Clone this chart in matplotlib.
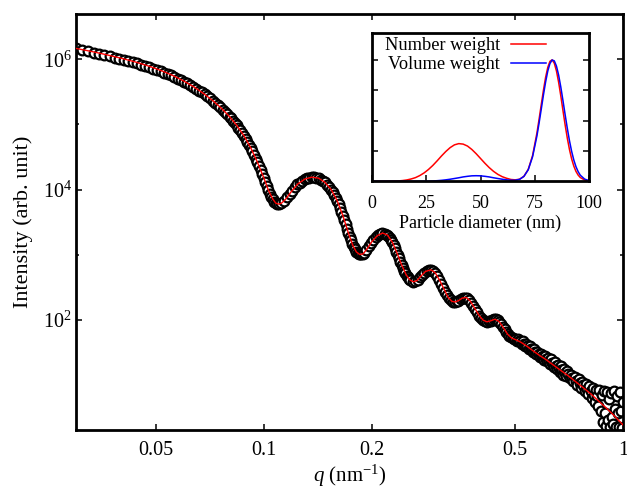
import numpy as np
import matplotlib
matplotlib.use("Agg")
import matplotlib.pyplot as plt
from matplotlib.ticker import FixedLocator, NullFormatter, LogFormatterMathtext, NullLocator

plt.rcParams['font.family'] = 'serif'
plt.rcParams['font.serif'] = ['Liberation Serif', 'DejaVu Serif']
plt.rcParams['mathtext.fontset'] = 'custom'
plt.rcParams['mathtext.rm'] = 'Liberation Serif'
plt.rcParams['mathtext.it'] = 'Liberation Serif:italic'

q_data = [0.0300, 0.0312, 0.0324, 0.0336, 0.0348, 0.0360, 0.0372, 0.0384, 0.0396, 0.0408,
          0.0420, 0.0432, 0.0444, 0.0456, 0.0468, 0.0480, 0.0492, 0.0504, 0.0516, 0.0528,
          0.0540, 0.0552, 0.0564, 0.0576, 0.0588, 0.0600,
          0.0612, 0.0624, 0.0636, 0.0648, 0.0660, 0.0672, 0.0684, 0.0696, 0.0708, 0.0720,
          0.0732, 0.0744, 0.0756, 0.0768, 0.0780, 0.0792, 0.0804,
          0.081, 0.082, 0.083, 0.084, 0.085, 0.086, 0.087, 0.088, 0.089, 0.090,
          0.091, 0.092, 0.093, 0.094, 0.095, 0.096, 0.097, 0.098, 0.099, 0.100,
          0.101, 0.102, 0.103, 0.104, 0.105, 0.106, 0.107, 0.108, 0.109, 0.110,
          0.112, 0.114, 0.116, 0.118, 0.120, 0.122, 0.124, 0.126, 0.128, 0.130, 0.132,
          0.134, 0.136, 0.138, 0.140, 0.142, 0.144, 0.146, 0.148, 0.150, 0.152, 0.154,
          0.1555, 0.1570, 0.1585, 0.1600, 0.1615, 0.1630, 0.1645, 0.1660, 0.1675, 0.1690,
          0.1705, 0.1720, 0.1735, 0.1750, 0.1765, 0.1780, 0.1795, 0.1810, 0.1825, 0.1840,
          0.1855, 0.1870, 0.1885,
          0.190, 0.193, 0.196, 0.199, 0.202, 0.205, 0.208, 0.211, 0.214, 0.217, 0.220,
          0.222, 0.224, 0.226, 0.228, 0.230, 0.232, 0.234, 0.236, 0.238, 0.240, 0.242,
          0.244, 0.246, 0.248, 0.250, 0.252, 0.254, 0.256,
          0.260, 0.264, 0.268, 0.272, 0.276, 0.280, 0.284, 0.288, 0.292, 0.296, 0.300,
          0.304, 0.308, 0.312, 0.316, 0.320, 0.324, 0.328, 0.332, 0.336, 0.340, 0.344, 0.348,
          0.353, 0.358, 0.363, 0.368, 0.373, 0.378, 0.383, 0.388, 0.393, 0.398,
          0.403, 0.408, 0.413, 0.418, 0.423, 0.428, 0.433, 0.438, 0.443, 0.448,
          0.453, 0.458, 0.463, 0.468, 0.473, 0.478, 0.483, 0.488, 0.493, 0.498,
          0.502, 0.506, 0.510, 0.514, 0.518, 0.522, 0.526, 0.530, 0.534, 0.538,
          0.542, 0.546, 0.550, 0.554, 0.558, 0.562, 0.566, 0.570, 0.574, 0.578,
          0.582, 0.586, 0.590, 0.594, 0.598, 0.602, 0.606, 0.610, 0.614, 0.618,
          0.622, 0.626, 0.630, 0.634, 0.638, 0.642, 0.646, 0.650, 0.654, 0.658,
          0.662, 0.666, 0.670, 0.674, 0.678, 0.682, 0.686, 0.690, 0.694, 0.698,
          0.704, 0.710, 0.716, 0.722, 0.728, 0.734, 0.740, 0.746, 0.752, 0.758,
          0.764, 0.770, 0.776, 0.782, 0.788, 0.794, 0.800, 0.806, 0.812, 0.818,
          0.824, 0.830, 0.836, 0.842, 0.848, 0.854, 0.860, 0.866, 0.872, 0.878,
          0.884, 0.890, 0.896, 0.902, 0.908, 0.914, 0.920, 0.926, 0.932, 0.938,
          0.944, 0.950, 0.956, 0.962, 0.968, 0.974, 0.980, 0.986, 0.992, 0.998]
lg_data = [6.172, 6.150, 6.128, 6.106, 6.086, 6.066, 6.048, 6.030, 6.012, 5.994,
           5.976, 5.958, 5.940, 5.921, 5.902, 5.882, 5.861, 5.841, 5.820, 5.798,
           5.776, 5.754, 5.731, 5.707, 5.682, 5.658,
           5.634, 5.607, 5.580, 5.552, 5.522, 5.492, 5.462, 5.431, 5.400, 5.368,
           5.334, 5.300, 5.265, 5.229, 5.191, 5.154, 5.115,
           5.095, 5.060, 5.025, 4.990, 4.950, 4.910, 4.870, 4.830, 4.783, 4.735,
           4.688, 4.640, 4.585, 4.530, 4.475, 4.420, 4.360, 4.300, 4.240, 4.180,
           4.117, 4.053, 3.990, 3.935, 3.890, 3.850, 3.815, 3.790, 3.778, 3.775,
           3.790, 3.828, 3.878, 3.933, 3.984, 4.032, 4.080, 4.107, 4.133, 4.160, 4.172,
           4.184, 4.190, 4.189, 4.183, 4.175, 4.153, 4.132, 4.110, 4.073, 4.037, 4.000,
           3.958, 3.915, 3.872, 3.830, 3.773, 3.715, 3.658, 3.600, 3.533, 3.465,
           3.398, 3.330, 3.273, 3.216, 3.160, 3.115, 3.080, 3.045, 3.022, 3.007,
           3.001, 3.003, 3.010,
           3.026, 3.074, 3.127, 3.182, 3.226, 3.264, 3.296, 3.313, 3.328, 3.318, 3.304,
           3.287, 3.253, 3.221, 3.190, 3.141, 3.093, 3.044, 2.994, 2.943, 2.891, 2.840,
           2.797, 2.754, 2.711, 2.677, 2.650, 2.623, 2.605,
           2.584, 2.586, 2.607, 2.650, 2.690, 2.723, 2.745, 2.755, 2.762, 2.745, 2.720,
           2.667, 2.613, 2.553, 2.491, 2.430, 2.370, 2.325, 2.295, 2.277, 2.271, 2.278, 2.290,
           2.312, 2.331, 2.339, 2.332, 2.301, 2.262, 2.210, 2.160, 2.110, 2.060,
           2.025, 1.992, 1.975, 1.966, 1.970, 1.980, 1.992, 2.002, 2.004, 1.990,
           1.965, 1.925, 1.886, 1.847, 1.808, 1.772, 1.745, 1.724, 1.710, 1.699,
           1.701, 1.673, 1.703, 1.664, 1.675, 1.624, 1.672, 1.630, 1.598, 1.626,
           1.594, 1.551, 1.598, 1.545, 1.552, 1.499, 1.547, 1.505, 1.473, 1.501,
           1.469, 1.427, 1.477, 1.427, 1.446, 1.376, 1.445, 1.400, 1.359, 1.407,
           1.366, 1.310, 1.388, 1.332, 1.336, 1.265, 1.344, 1.288, 1.243, 1.307,
           1.256, 1.191, 1.290, 1.225, 1.230, 1.150, 1.245, 1.185, 1.130, 1.210,
           1.164, 1.099, 1.153, 1.097, 1.052, 1.116, 1.060, 1.000, 1.080, 1.025,
           0.950, 1.045, 0.990, 0.895, 1.010, 0.935, 0.850, 0.975, 0.900, 0.795,
           0.940, 0.834, 0.738, 0.922, 0.817, 0.671, 0.915, 0.600, 0.845, 0.420,
           0.895, 0.560, 0.365, 0.880, 0.455, 0.780, 0.350, 0.870, 0.505, 0.390,
           0.905, 0.620, 0.340, 0.817, 0.562, 0.346, 0.880, 0.595, 0.330, 0.735]

# --- fitted curve
q_fit = [0.030, 0.033, 0.036, 0.040, 0.044, 0.048, 0.052, 0.056, 0.060, 0.064,
         0.068, 0.072, 0.076, 0.080, 0.084, 0.088, 0.092, 0.096, 0.100, 0.103,
         0.106, 0.108, 0.110, 0.112, 0.115, 0.119, 0.124, 0.130, 0.136, 0.142,
         0.148, 0.154, 0.160, 0.166, 0.172, 0.177, 0.181, 0.185, 0.189, 0.194,
         0.200, 0.207, 0.214, 0.221, 0.228, 0.235, 0.242, 0.249, 0.255, 0.261,
         0.267, 0.274, 0.282, 0.292, 0.300, 0.309, 0.318, 0.326, 0.334, 0.341,
         0.348, 0.357, 0.366, 0.375, 0.386, 0.398, 0.408, 0.418, 0.428, 0.440,
         0.452, 0.465, 0.478, 0.490, 0.505, 0.520, 0.540, 0.560, 0.585, 0.610,
         0.640, 0.670, 0.700, 0.740, 0.780, 0.820, 0.860, 0.900, 0.940, 0.980, 1.000]
lg_fit = [6.170, 6.125, 6.080, 6.020, 5.960, 5.895, 5.825, 5.750, 5.665, 5.575,
          5.475, 5.370, 5.255, 5.130, 4.990, 4.830, 4.640, 4.420, 4.180, 3.990,
          3.850, 3.790, 3.775, 3.790, 3.850, 3.960, 4.080, 4.160, 4.190, 4.175,
          4.110, 4.000, 3.830, 3.600, 3.330, 3.140, 3.040, 3.000, 3.010, 3.090,
          3.200, 3.290, 3.330, 3.300, 3.190, 3.020, 2.840, 2.690, 2.610, 2.580,
          2.600, 2.670, 2.740, 2.765, 2.720, 2.600, 2.460, 2.340, 2.280, 2.270,
          2.290, 2.330, 2.340, 2.290, 2.180, 2.060, 1.990, 1.965, 1.980, 2.005,
          1.970, 1.870, 1.770, 1.715, 1.685, 1.650, 1.590, 1.525, 1.450, 1.385,
          1.300, 1.220, 1.145, 1.040, 0.940, 0.840, 0.735, 0.635, 0.535, 0.430, 0.380]

# --- inset: size distributions
diam_nm = [0, 2, 4, 6, 8, 10, 12, 14, 16, 18, 20, 22, 24, 26, 28, 30, 32, 34, 36, 38,
           40, 42, 44, 46, 48, 50, 52, 54, 56, 58, 60, 62, 64, 66, 68, 70, 72, 74, 76, 77,
           78, 79, 80, 81, 82, 83, 84, 85, 86, 87, 88, 89, 90, 91, 92, 93, 94, 95, 96, 98, 100]
number_w = [0, 0, 0, 0, 0.001, 0.002, 0.003, 0.006, 0.011, 0.019, 0.030, 0.047, 0.069, 0.097,
            0.130, 0.168, 0.208, 0.245, 0.277, 0.300, 0.310, 0.306, 0.290, 0.262, 0.227,
            0.188, 0.149, 0.113, 0.082, 0.057, 0.038, 0.025, 0.015, 0.012, 0.017, 0.041,
            0.098, 0.212, 0.397, 0.511, 0.631, 0.749, 0.855, 0.937, 0.987, 0.999, 0.972,
            0.908, 0.815, 0.703, 0.582, 0.464, 0.355, 0.261, 0.184, 0.125, 0.081, 0.051,
            0.031, 0.010, 0.003]
volume_w = [0, 0, 0, 0, 0, 0, 0, 0, 0, 0, 0, 0, 0, 0.001, 0.003, 0.005, 0.008, 0.012, 0.017,
            0.023, 0.029, 0.036, 0.041, 0.045, 0.046, 0.045, 0.041, 0.036, 0.029, 0.023,
            0.017, 0.012, 0.009, 0.009, 0.016, 0.040, 0.095, 0.202, 0.373, 0.480, 0.594,
            0.710, 0.817, 0.907, 0.969, 0.998, 0.991, 0.948, 0.874, 0.776, 0.664, 0.548,
            0.436, 0.334, 0.246, 0.175, 0.120, 0.079, 0.050, 0.018, 0.006]

I_data = 10 ** np.array(lg_data)
I_fit = 10 ** np.array(lg_fit)

fig = plt.figure(figsize=(6.27, 4.92), dpi=100)
ax = fig.add_axes([0.1212, 0.126, 0.8724, 0.8455])

ax.plot(q_data, I_data, 'o', mfc='white', mec='black', ms=7, mew=1.6, zorder=2)
ax.plot(q_fit, I_fit, '-', color='#ff0000', lw=1.0, zorder=3)

ax.set_xscale('log')
ax.set_yscale('log')
ax.set_xlim(0.03, 1)
ax.set_ylim(2, 5e6)

ax.xaxis.set_major_locator(FixedLocator([0.05, 0.1, 0.2, 0.5, 1]))
ax.set_xticklabels(['0.05', '0.1', '0.2', '0.5', '1'])
ax.xaxis.set_minor_locator(NullLocator())
ax.yaxis.set_major_locator(FixedLocator([1e2, 1e4, 1e6]))
ax.yaxis.set_major_formatter(LogFormatterMathtext())
ax.yaxis.set_minor_locator(FixedLocator([1e3, 1e5]))
ax.yaxis.set_minor_formatter(NullFormatter())

ax.tick_params(which='both', direction='in', top=True, right=True, width=1.1, labelsize=14.5)
ax.tick_params(which='major', length=4.5)
ax.tick_params(which='minor', length=2.5)
ax.tick_params(axis='x', pad=8)
ax.tick_params(axis='y', pad=3)
for s in ax.spines.values():
    s.set_linewidth(2.0)

ax.set_xlabel(r'$q$ (nm$^{-1}$)', fontsize=15)
ax.set_ylabel('Intensity (arb. unit)', fontsize=16)
ax.yaxis.set_label_coords(-0.079, 0.5)
ax.xaxis.set_label_coords(0.5, -0.080)

# inset
ins = fig.add_axes([0.5933, 0.6315, 0.3461, 0.3014])
ins.plot(diam_nm, number_w, color='#ff0000', lw=1.1, label='Number weight')
ins.plot(diam_nm, volume_w, color='#0000ff', lw=1.1, label='Volume weight')
ins.set_xlim(0, 100)
ins.set_ylim(0, 1.22)
ins.set_xticks([0, 25, 50, 75, 100])
ins.set_yticks([0.25, 0.5, 0.75, 1.0])
ins.yaxis.set_major_formatter(NullFormatter())
ins.tick_params(direction='in', top=False, right=True, length=4, width=1.1, labelsize=13, pad=10)
for s in ins.spines.values():
    s.set_linewidth(2.0)
ins.set_xlabel('Particle diameter (nm)', fontsize=13, labelpad=2)
ins.legend(loc='upper right', bbox_to_anchor=(0.80, 0.97), frameon=False, markerfirst=False,
           fontsize=13.2, handlelength=1.9, handletextpad=0.6, labelspacing=0.1, borderpad=0,
           borderaxespad=0)

fig.savefig('out.png', dpi=100)
